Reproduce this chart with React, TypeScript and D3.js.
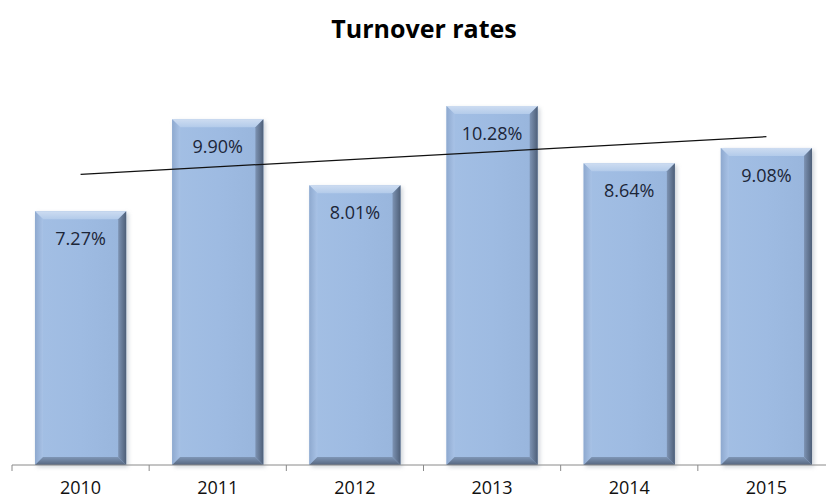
import React from "react";
import * as d3 from "d3";

const categories = ["2010", "2011", "2012", "2013", "2014", "2015"];
const values = [7.27, 9.9, 8.01, 10.28, 8.64, 9.08];
const labels = ["7.27%", "9.90%", "8.01%", "10.28%", "8.64%", "9.08%"];
const title = "Turnover rates";

const W = 826;
const H = 499;

export default function App() {
  const x = d3
    .scaleBand<string>()
    .domain(categories)
    .range([12, 835])
    .paddingInner(0.335)
    .paddingOuter(0.1675);
  const y = d3.scaleLinear().domain([0, 12]).range([465, 46]);
  const step = x.step();
  const bw = x.bandwidth();

  // linear trendline (least squares on index 1..n)
  const n = values.length;
  const xs = values.map((_, i) => i + 1);
  const mx = d3.mean(xs)!;
  const my = d3.mean(values)!;
  const sxy = d3.sum(values.map((v, i) => (xs[i] - mx) * (v - my)));
  const sxx = d3.sum(xs.map((v) => (v - mx) ** 2));
  const slope = sxy / sxx;
  const icpt = my - slope * mx;
  const trend = [1, n].map((t) => ({
    px: x(categories[t - 1])! + bw / 2,
    py: y(icpt + slope * t),
  }));
  const line = d3
    .line<{ px: number; py: number }>()
    .x((d) => d.px)
    .y((d) => d.py);

  const font = "'Open Sans', Lato, sans-serif";
  const bev = 8;

  return (
    <svg
      width={W}
      height={H}
      style={{ position: "absolute", left: 0, top: 0, background: "#fff" }}
    >
      <defs>
        <linearGradient id="face" x1="0" y1="0" x2="1" y2="0">
          <stop offset="0" stopColor="#a3bfe4" />
          <stop offset="0.5" stopColor="#9ebbe2" />
          <stop offset="1" stopColor="#98b5dc" />
        </linearGradient>
        <linearGradient id="topBev" x1="0" y1="0" x2="0" y2="1">
          <stop offset="0" stopColor="#cddcf1" />
          <stop offset="1" stopColor="#b3cbea" />
        </linearGradient>
        <linearGradient id="rightBev" x1="0" y1="0" x2="1" y2="0">
          <stop offset="0" stopColor="#7d93b3" />
          <stop offset="1" stopColor="#4e5f78" />
        </linearGradient>
        <linearGradient id="botBev" x1="0" y1="0" x2="0" y2="1">
          <stop offset="0" stopColor="#7f96b6" />
          <stop offset="1" stopColor="#55667f" />
        </linearGradient>
        <linearGradient id="leftBev" x1="0" y1="0" x2="1" y2="0">
          <stop offset="0" stopColor="#8ea9cf" />
          <stop offset="1" stopColor="#a8c2e6" />
        </linearGradient>
        <filter id="shadow" x="-20%" y="-20%" width="140%" height="140%">
          <feGaussianBlur stdDeviation="2" />
        </filter>
      </defs>

      <text
        x={424}
        y={38}
        textAnchor="middle"
        fontFamily={font}
        fontWeight="bold"
        fontSize={25}
        fill="#000"
      >
        {title}
      </text>

      {categories.map((c, i) => {
        const x0 = x(c)!;
        const x1 = x0 + bw;
        const y0 = y(values[i]);
        const y1 = y(0);
        return (
          <g key={c}>
            <rect
              x={x0 + 2}
              y={y0 + 2}
              width={bw}
              height={y1 - y0}
              fill="#9aa4b0"
              opacity={0.5}
              filter="url(#shadow)"
            />
            <rect x={x0} y={y0} width={bw} height={y1 - y0} fill="url(#face)" />
            <polygon
              points={`${x0},${y0} ${x1},${y0} ${x1 - bev},${y0 + bev} ${x0 + bev},${y0 + bev}`}
              fill="url(#topBev)"
            />
            <polygon
              points={`${x0},${y0} ${x0 + bev},${y0 + bev} ${x0 + bev},${y1 - bev} ${x0},${y1}`}
              fill="url(#leftBev)"
            />
            <polygon
              points={`${x1},${y0} ${x1},${y1} ${x1 - bev},${y1 - bev} ${x1 - bev},${y0 + bev}`}
              fill="url(#rightBev)"
            />
            <polygon
              points={`${x0},${y1} ${x1},${y1} ${x1 - bev},${y1 - bev} ${x0 + bev},${y1 - bev}`}
              fill="url(#botBev)"
            />
            <text
              x={x0 + bw / 2}
              y={y0 + 34}
              textAnchor="middle"
              fontFamily={font}
              fontSize={18}
              fill="#1c2638"
            >
              {labels[i]}
            </text>
            <text
              x={x0 + bw / 2}
              y={494}
              textAnchor="middle"
              fontFamily={font}
              fontSize={18}
              fill="#111"
            >
              {c}
            </text>
          </g>
        );
      })}

      <line x1={12} x2={W} y1={y(0)} y2={y(0)} stroke="#8a8a8a" strokeWidth={1} />
      {d3.range(categories.length + 1).map((i) => {
        const tx = 12 + i * step;
        return (
          <line
            key={i}
            x1={tx}
            x2={tx}
            y1={y(0)}
            y2={y(0) + 6}
            stroke="#8a8a8a"
            strokeWidth={1}
          />
        );
      })}

      <path d={line(trend)!} fill="none" stroke="#111" strokeWidth={1.2} />
    </svg>
  );
}
